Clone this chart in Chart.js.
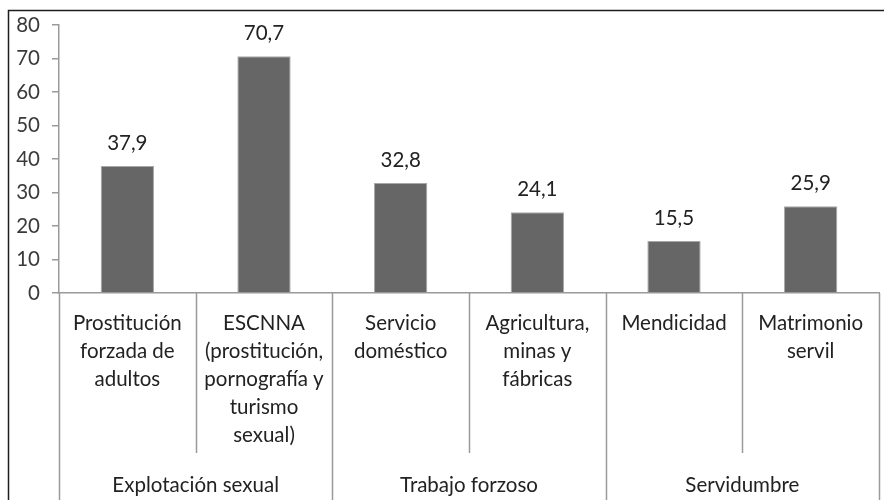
<!DOCTYPE html>
<html>
<head>
<meta charset="utf-8">
<script src="https://cdn.jsdelivr.net/npm/chart.js@4/dist/chart.umd.min.js"></script>
<style>
  html, body { margin: 0; padding: 0; background: #fff; }
  #wrap { width: 884px; height: 500px; }
</style>
</head>
<body>
<div id="wrap"><canvas id="grafico" width="884" height="500"></canvas></div>
<script>
// categorias (cada una en varias lineas)
const categorias = [
  ["Prostitución", "forzada de", "adultos"],
  ["ESCNNA", "(prostitución,", "pornografía y", "turismo", "sexual)"],
  ["Servicio", "doméstico"],
  ["Agricultura,", "minas y", "fábricas"],
  ["Mendicidad"],
  ["Matrimonio", "servil"]
];
const valores = [37.9, 70.7, 32.8, 24.1, 15.5, 25.9];
// grupos: nombre y cuantas categorias abarca
const grupos = ["Explotación sexual", "Trabajo forzoso", "Servidumbre"];
const gruposTam = [2, 2, 2];
const ticksY = [0, 10, 20, 30, 40, 50, 60, 70, 80];

const fuente = "Lato, 'Open Sans', sans-serif";
const tam = 20.5;

const extras = {
  id: "extras",
  beforeDraw(chart) {
    const ctx = chart.ctx;
    ctx.save();
    ctx.fillStyle = "#fff";
    ctx.fillRect(0, 0, chart.width, chart.height);
    // marco exterior
    ctx.strokeStyle = "#1e1e1e";
    ctx.lineWidth = 1.5;
    ctx.strokeRect(8.5, 10.5, chart.width + 20, chart.height + 20);
    ctx.restore();
  },
  afterDraw(chart) {
    const ctx = chart.ctx;
    const x = chart.scales.x;
    const area = chart.chartArea;
    const paso = x.getPixelForValue(1) - x.getPixelForValue(0);
    ctx.save();
    ctx.strokeStyle = "#9a9a9a";
    ctx.lineWidth = 1.5;
    // separadores entre categorias
    let idx = 0;
    const bordes = [0];
    gruposTam.forEach(n => { idx += n; bordes.push(idx); });
    for (let i = 0; i <= categorias.length; i++) {
      const px = Math.round(x.getPixelForValue(i) - paso / 2) + 0.5;
      const esGrupo = bordes.includes(i);
      ctx.beginPath();
      ctx.moveTo(px, area.bottom);
      ctx.lineTo(px, esGrupo ? chart.height : 453);
      ctx.stroke();
    }
    // nombres de grupo
    ctx.fillStyle = "#222";
    ctx.font = tam + "px " + fuente;
    ctx.textAlign = "center";
    ctx.textBaseline = "middle";
    for (let g = 0; g < grupos.length; g++) {
      const a = x.getPixelForValue(bordes[g]) - paso / 2;
      const b = x.getPixelForValue(bordes[g + 1]) - paso / 2;
      ctx.fillText(grupos[g], (a + b) / 2, 485);
    }
    // valores sobre las barras
    const meta = chart.getDatasetMeta(0);
    meta.data.forEach((bar, i) => {
      ctx.fillText(valores[i].toFixed(1).replace(".", ","), bar.x, bar.y - 23);
    });
    ctx.restore();
  }
};

new Chart(document.getElementById("grafico"), {
  type: "bar",
  data: {
    labels: categorias,
    datasets: [{
      data: valores,
      backgroundColor: "#666666",
      borderColor: "#a8a8a8",
      borderWidth: 1,
      barPercentage: 0.39,
      categoryPercentage: 1
    }]
  },
  options: {
    responsive: false,
    animation: false,
    layout: { padding: { left: 0, right: 5, top: 25, bottom: 0 } },
    plugins: { legend: { display: false }, tooltip: { enabled: false } },
    scales: {
      y: {
        min: 0,
        max: 80,
        afterBuildTicks(scale) { scale.ticks = ticksY.map(v => ({ value: v })); },
        afterFit(scale) { scale.width = 59; },
        ticks: {
          color: "#3a3a3a",
          font: { family: fuente, size: tam },
          padding: 12
        },
        grid: { drawOnChartArea: false, tickLength: 7, color: "#9a9a9a", lineWidth: 1.5 },
        border: { color: "#9a9a9a", width: 1.5 }
      },
      x: {
        afterFit(scale) { scale.height = 500 - 293; },
        ticks: {
          color: "#222",
          font: { family: fuente, size: tam, lineHeight: 28 / tam },
          padding: 16,
          maxRotation: 0,
          autoSkip: false
        },
        grid: { display: false, drawTicks: false },
        border: { color: "#9a9a9a", width: 1.5 }
      }
    }
  },
  plugins: [extras]
});
</script>
</body>
</html>
